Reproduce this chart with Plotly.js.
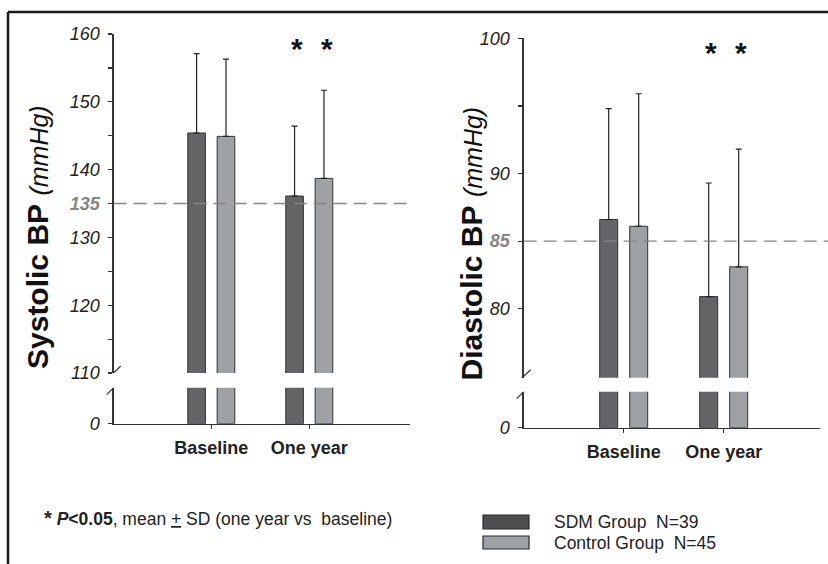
<!DOCTYPE html>
<html>
<head>
<meta charset="utf-8">
<script src="https://cdn.plot.ly/plotly-3.0.1.min.js"></script>
<style>html,body{margin:0;padding:0;background:#fff;}#chart{width:828px;height:564px;}</style>
</head>
<body>
<div id="chart"></div>
<script>
// ---- data ----
const categories = ['Baseline', 'One year'];
const sbpSDM = [145.4, 136.1];
const sbpSDMsd = [11.7, 10.3];
const sbpCtl = [144.9, 138.7];
const sbpCtlsd = [11.4, 13.0];
const dbpSDM = [86.6, 80.9];
const dbpSDMsd = [8.2, 8.4];
const dbpCtl = [86.1, 83.1];
const dbpCtlsd = [9.8, 8.7];
const sbpTarget = 135;
const dbpTarget = 85;
const seriesNames = ['SDM Group  N=39', 'Control Group  N=45'];
const sbpTicks = [110, 115, 120, 125, 130, 135, 140, 145, 150, 155, 160];
const sbpTickText = ['110', '', '120', '', '130', '135', '140', '', '150', '', '160'];
const dbpTicks = [80, 85, 90, 95, 100];
const dbpTickText = ['80', '85', '90', '', '100'];

// ---- style ----
const FONT = 'Liberation Sans, Arial, sans-serif';
const cSDM = '#646467';
const cCtl = '#a0a1a5';
const cLine = '#333333';
const cGrey = '#858585';

function barTrace(y, sd, color, xa, ya) {
  return {
    type: 'bar', x: categories, y: y, xaxis: xa, yaxis: ya,
    marker: {color: color, line: {color: cLine, width: 1}},
    error_y: {type: 'data', array: sd, arrayminus: sd.map(() => 0), symmetric: false,
              color: '#222', thickness: 1.2, width: 3},
    showlegend: false, hoverinfo: 'skip'
  };
}

const traces = [];
[['x', 'y'], ['x', 'y2']].forEach(([xa, ya]) => {
  traces.push(barTrace(sbpSDM, sbpSDMsd, cSDM, xa, ya));
  traces.push(barTrace(sbpCtl, sbpCtlsd, cCtl, xa, ya));
});
[['x2', 'y3'], ['x2', 'y4']].forEach(([xa, ya]) => {
  traces.push(barTrace(dbpSDM, dbpSDMsd, cSDM, xa, ya));
  traces.push(barTrace(dbpCtl, dbpCtlsd, cCtl, xa, ya));
});

function fmtTicks(arr, special) {
  return arr.map(t => t === special ? `<b><span style="color:${cGrey}">${t}</span></b>` : t);
}

const yBase = {
  showline: true, linecolor: cLine, linewidth: 1.3, ticks: 'outside', ticklen: 4,
  tickcolor: cLine, tickwidth: 1.2, showgrid: false, zeroline: false, fixedrange: true,
  ticklabelstandoff: 5,
  tickfont: {family: FONT, size: 18, style: 'italic', color: '#222'}
};
const xBase = {
  type: 'category', showline: true, linecolor: cLine, linewidth: 1.5, ticks: 'outside',
  ticklen: 4, tickcolor: cLine, showgrid: false, zeroline: false, fixedrange: true,
  ticklabelstandoff: 3,
  tickfont: {family: FONT, size: 18, weight: 'bold', color: '#222'}
};

const W = 828, H = 564;
const px = v => v / W;
const py = v => 1 - v / H;

const layout = {
  width: W, height: H, margin: {l: 0, r: 0, t: 0, b: 0},
  paper_bgcolor: '#fff', plot_bgcolor: 'rgba(0,0,0,0)',
  barmode: 'group', bargap: 0.4, bargroupgap: 0.4, showlegend: false,
  xaxis: Object.assign({}, xBase, {domain: [px(113.7), px(410)], range: [-0.996, 2.028], anchor: 'y2'}),
  yaxis: Object.assign({}, yBase, {domain: [py(373), py(34)], range: [110, 160], anchor: 'x',
    tickvals: sbpTicks, ticktext: fmtTicks(sbpTickText, '135')}),
  yaxis2: Object.assign({}, yBase, {domain: [py(423.7), py(387.7)], range: [0, 10], anchor: 'x',
    tickvals: [0], ticktext: ['0']}),
  xaxis2: Object.assign({}, xBase, {domain: [px(523.7), px(820)], range: [-1.0, 1.963], anchor: 'y4'}),
  yaxis3: Object.assign({}, yBase, {domain: [py(377.7), py(38.3)], range: [74.9, 100], anchor: 'x2',
    tickvals: dbpTicks, ticktext: fmtTicks(dbpTickText, '85')}),
  yaxis4: Object.assign({}, yBase, {domain: [py(427.7), py(391.7)], range: [0, 10], anchor: 'x2',
    tickvals: [0], ticktext: ['0']}),
  shapes: [
    // frame
    {type: 'line', xref: 'paper', yref: 'paper', x0: px(8), x1: 1, y0: py(12), y1: py(12), line: {color: '#1a1a1a', width: 2.5}},
    {type: 'line', xref: 'paper', yref: 'paper', x0: px(8), x1: px(8), y0: py(12), y1: 0, line: {color: '#1a1a1a', width: 2.5}},
    // target lines
    {type: 'line', xref: 'x domain', yref: 'y', x0: 0, x1: 1, y0: sbpTarget, y1: sbpTarget, line: {color: cGrey, width: 1.3, dash: '13px,7px'}},
    {type: 'line', xref: 'x2 domain', yref: 'y3', x0: 0, x1: 1.03, y0: dbpTarget, y1: dbpTarget, line: {color: cGrey, width: 1.3, dash: '13px,7px'}},
    // axis break slashes
    {type: 'line', xref: 'paper', yref: 'y', xsizemode: 'pixel', ysizemode: 'pixel', xanchor: px(113.7), yanchor: 110, x0: -7, x1: 7, y0: -7, y1: 7, line: {color: cLine, width: 1.2}},
    {type: 'line', xref: 'paper', yref: 'y2', xsizemode: 'pixel', ysizemode: 'pixel', xanchor: px(113.7), yanchor: 10, x0: -7, x1: 7, y0: -7, y1: 7, line: {color: cLine, width: 1.2}},
    {type: 'line', xref: 'paper', yref: 'y3', xsizemode: 'pixel', ysizemode: 'pixel', xanchor: px(523.7), yanchor: 74.9, x0: -7, x1: 7, y0: -5, y1: 8, line: {color: cLine, width: 1.2}},
    {type: 'line', xref: 'paper', yref: 'y4', xsizemode: 'pixel', ysizemode: 'pixel', xanchor: px(523.7), yanchor: 10, x0: -7, x1: 7, y0: -7, y1: 7, line: {color: cLine, width: 1.2}},
    // legend boxes
    {type: 'rect', xref: 'paper', yref: 'paper', x0: px(483), x1: px(529), y0: py(529), y1: py(515), fillcolor: '#4e4e50', line: {color: '#2a2a2a', width: 1.2}},
    {type: 'rect', xref: 'paper', yref: 'paper', x0: px(483), x1: px(529), y0: py(549), y1: py(536), fillcolor: cCtl, line: {color: '#2a2a2a', width: 1.2}}
  ],
  annotations: [
    {xref: 'paper', yref: 'paper', x: px(37.5), y: py(237.5), textangle: -90, showarrow: false,
     xanchor: 'center', yanchor: 'middle',
     text: '<b>Systolic BP</b> <i><span style="font-size:25px">(mmHg)</span></i>',
     font: {family: FONT, size: 30, color: '#111'}},
    {xref: 'paper', yref: 'paper', x: px(471), y: py(243.5), textangle: -90, showarrow: false,
     xanchor: 'center', yanchor: 'middle',
     text: '<b>Diastolic BP</b> <i><span style="font-size:25px">(mmHg)</span></i>',
     font: {family: FONT, size: 30, color: '#111'}},
    {xref: 'paper', yref: 'paper', x: px(296.7), y: py(48), showarrow: false, xanchor: 'center', yanchor: 'middle', text: '<b>*</b>', font: {family: FONT, size: 30, color: '#111'}},
    {xref: 'paper', yref: 'paper', x: px(326.7), y: py(48), showarrow: false, xanchor: 'center', yanchor: 'middle', text: '<b>*</b>', font: {family: FONT, size: 30, color: '#111'}},
    {xref: 'paper', yref: 'paper', x: px(710.7), y: py(52), showarrow: false, xanchor: 'center', yanchor: 'middle', text: '<b>*</b>', font: {family: FONT, size: 30, color: '#111'}},
    {xref: 'paper', yref: 'paper', x: px(741), y: py(52), showarrow: false, xanchor: 'center', yanchor: 'middle', text: '<b>*</b>', font: {family: FONT, size: 30, color: '#111'}},
    {xref: 'paper', yref: 'paper', x: px(42), y: py(518), showarrow: false, xanchor: 'left', yanchor: 'middle',
     text: '<b><span style="font-size:20px">*</span></b> <b><i>P</i>&lt;0.05</b>, mean <u>+</u> SD (one year vs&nbsp; baseline)',
     font: {family: FONT, size: 17.5, color: '#222'}},
    {xref: 'paper', yref: 'paper', x: px(552), y: py(522), showarrow: false, xanchor: 'left', yanchor: 'middle',
     text: seriesNames[0].replace('  ', '&nbsp; '), font: {family: FONT, size: 17.5, color: '#222'}},
    {xref: 'paper', yref: 'paper', x: px(552), y: py(543), showarrow: false, xanchor: 'left', yanchor: 'middle',
     text: seriesNames[1].replace('  ', '&nbsp; '), font: {family: FONT, size: 17.5, color: '#222'}}
  ]
};

Plotly.newPlot('chart', traces, layout, {staticPlot: true, displayModeBar: false});
</script>
</body>
</html>
